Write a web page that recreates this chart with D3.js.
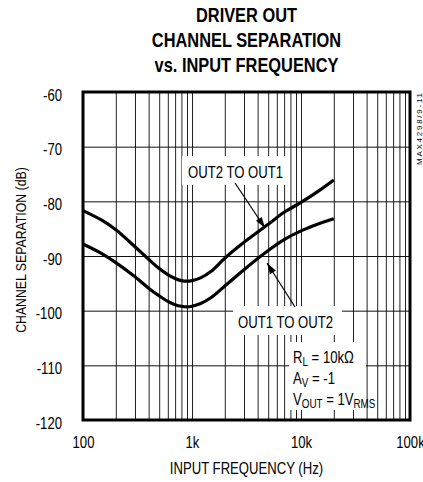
<!DOCTYPE html>
<html><head><meta charset="utf-8">
<script src="https://cdn.jsdelivr.net/npm/d3@7"></script>
<style>
body{margin:0;background:#fff;}
svg{display:block;font-family:"Liberation Sans",Arial,Helvetica,sans-serif;}
</style></head><body>
<script>
// ---- data ----
const freqs = [100,150,200,300,400,500,600,700,800,900,1000,1200,1500,2000,3000,5000,7000,10000,15000,20000];
const out2ToOut1 = [-81.7,-83.5,-85.2,-88.3,-90.6,-92.3,-93.4,-94.1,-94.5,-94.6,-94.5,-94.0,-92.8,-90.4,-87.5,-84.2,-82.0,-80.2,-77.9,-76.1];
const out1ToOut2 = [-87.8,-89.6,-91.2,-93.8,-95.9,-97.3,-98.3,-98.9,-99.2,-99.3,-99.2,-98.7,-97.6,-95.5,-92.5,-89.0,-87.0,-85.4,-84.0,-83.2];
const xTicks = [100,1000,10000,100000];
const xTickLabels = ["100","1k","10k","100k"];
const yTicks = [-60,-70,-80,-90,-100,-110,-120];
const titleLines = ["DRIVER OUT","CHANNEL SEPARATION","vs. INPUT FREQUENCY"];

const SX=0.82; // narrow font emulation
const W=423,H=482;
const L=83,R=410,T=92,B=420;
const svg=d3.select("body").append("svg").attr("width",W).attr("height",H);
const x=d3.scaleLog().domain([100,100000]).range([L,R]);
const y=d3.scaleLinear().domain([-120,-60]).range([B,T]);

function ntext(parent,px,py,str,opts={}){
  const t=parent.append("text").attr("transform",`translate(${px},${py}) scale(${SX},1)`)
    .attr("font-size",opts.size||16);
  if(opts.anchor) t.attr("text-anchor",opts.anchor);
  if(opts.weight) t.attr("font-weight",opts.weight);
  if(str!==null) t.text(str);
  return t;
}

// minor vertical grid values
const vGrid=[];
[100,1000,10000].forEach(d=>{for(let k=1;k<=9;k++){if(k>1||d>100) vGrid.push(d*k);} });

// grid
svg.append("g").attr("transform",`translate(0,${B})`)
  .call(d3.axisBottom(x).tickValues(vGrid).tickSize(-(B-T)).tickFormat(""))
  .call(g=>g.select(".domain").remove())
  .call(g=>g.selectAll("line").attr("stroke","#222").attr("stroke-width",1));
svg.append("g").attr("transform",`translate(${L},0)`)
  .call(d3.axisLeft(y).tickValues(yTicks.filter(v=>v>-120&&v<-60)).tickSize(-(R-L)).tickFormat(""))
  .call(g=>g.select(".domain").remove())
  .call(g=>g.selectAll("line").attr("stroke","#111").attr("stroke-width",1));

// white label boxes
const boxes=[[182,156,288,185],[233,306,342,335],[289,342,366,410]];
svg.selectAll("rect.box").data(boxes).enter().append("rect")
  .attr("x",d=>d[0]).attr("y",d=>d[1]).attr("width",d=>d[2]-d[0]).attr("height",d=>d[3]-d[1])
  .attr("fill","#fff");

// curves
const line=d3.line().x((d,i)=>x(freqs[i])).y(d=>y(d)).curve(d3.curveCatmullRom);
[out2ToOut1,out1ToOut2].forEach(s=>{
  svg.append("path").attr("d",line(s)).attr("fill","none").attr("stroke","#000").attr("stroke-width",3.2);
});

// frame
svg.append("rect").attr("x",L).attr("y",T).attr("width",R-L).attr("height",B-T)
  .attr("fill","none").attr("stroke","#000").attr("stroke-width",3);

// tick labels
svg.append("g").attr("transform",`translate(${L},0)`)
  .call(d3.axisLeft(y).tickValues(yTicks).tickSize(0).tickPadding(21/SX).tickFormat(d=>d))
  .call(g=>g.select(".domain").remove())
  .call(g=>g.selectAll("text").attr("font-size",16).attr("fill","#000").attr("font-family",null)
     .attr("dy","0.5em").attr("transform",`scale(${SX},1)`));
svg.append("g").attr("transform",`translate(0,${B})`)
  .call(d3.axisBottom(x).tickValues(xTicks).tickSize(0).tickPadding(17).tickFormat((d,i)=>xTickLabels[i]))
  .call(g=>g.select(".domain").remove())
  .call(g=>g.selectAll("text").attr("font-size",16).attr("fill","#000").attr("font-family",null)
     .attr("transform",`scale(${SX},1)`));

// axis titles
ntext(svg,246.5,474,"INPUT FREQUENCY (Hz)",{anchor:"middle",size:16});
svg.append("text").attr("transform",`translate(26,250) rotate(-90) scale(${SX},1)`)
  .attr("text-anchor","middle").attr("font-size",15).text("CHANNEL SEPARATION (dB)");

// title
titleLines.forEach((d,i)=>ntext(svg,246.5,22+i*25,d,{anchor:"middle",size:20,weight:"bold"}));

// figure code
svg.append("text").attr("transform","translate(422,165) rotate(-90)").attr("font-size",8)
  .attr("textLength",72).attr("lengthAdjust","spacing").text("MAX4298/9-11");

// annotations
ntext(svg,188,178,"OUT2 TO OUT1");
ntext(svg,238,328,"OUT1 TO OUT2");

function arrow(x1,y1,x2,y2){
  svg.append("line").attr("x1",x1).attr("y1",y1).attr("x2",x2).attr("y2",y2).attr("stroke","#000").attr("stroke-width",1.2);
  const a=Math.atan2(y2-y1,x2-x1), len=11, w=3.5;
  const bx=x2-len*Math.cos(a), by=y2-len*Math.sin(a);
  const px=-Math.sin(a)*w, py=Math.cos(a)*w;
  svg.append("path").attr("d",`M${x2},${y2}L${bx+px},${by+py}L${bx-px},${by-py}Z`).attr("fill","#000");
}
arrow(235,183,265,228);
arrow(295,307,267,263);

// conditions
function cond(py,parts){
  const t=ntext(svg,293,py,null);
  parts.forEach(([s,sub],i)=>{
    const ts=t.append("tspan").text(s);
    if(sub){ts.attr("font-size",12).attr("dy",3);} else if(i>0){ts.attr("dy",-3);}
  });
}
cond(363,[["R"],["L",1],[" = 10k\u03A9"]]);
cond(384,[["A"],["V",1],[" = -1"]]);
cond(405,[["V"],["OUT",1],[" = 1V"],["RMS",1]]);
</script>
</body></html>
